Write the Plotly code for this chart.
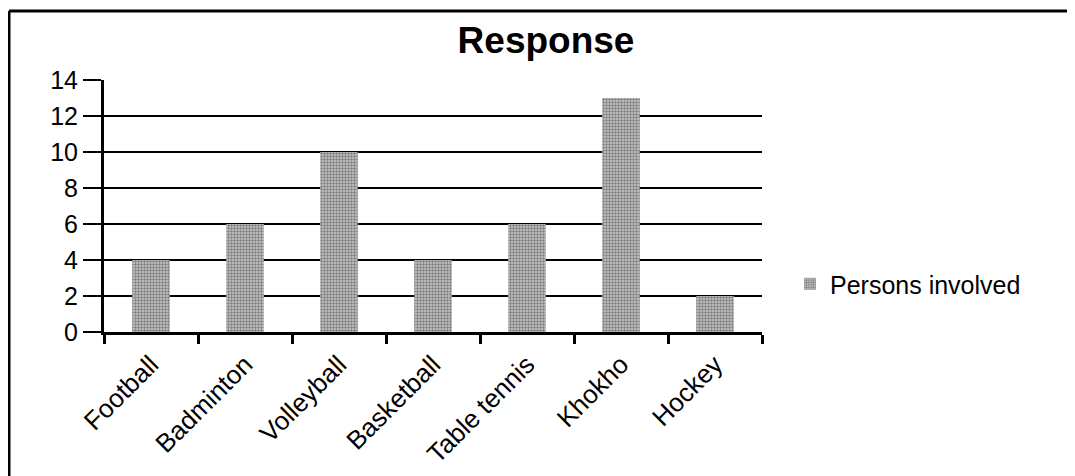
import plotly.graph_objects as go

categories = ["Football", "Badminton", "Volleyball", "Basketball", "Table tennis", "Khokho", "Hockey"]
persons_involved = [4, 6, 10, 4, 6, 13, 2]
y_ticks = [0, 2, 4, 6, 8, 10, 12, 14]

# page body adds an 8px offset; work in screen pixels and convert
OFF = 8
W, H = 1075 - OFF, 476 - OFF
L, T = 104 - OFF, 80 - OFF
pw, ph = 658, 252
R, B = W - L - pw, H - T - ph

def px_x(px):  # screen px -> paper x
    return (px - OFF - L) / pw

def px_y(py):  # screen px -> paper y
    return (T + ph - (py - OFF)) / ph

fig = go.Figure()
fig.add_trace(go.Bar(
    x=categories, y=persons_involved, name="Persons involved",
    width=0.4,
    marker=dict(color="#bdbdbd", line=dict(width=0),
                pattern=dict(shape=".", fgcolor="#333333", bgcolor="#c8c8c8", size=3, solidity=0.5)),
    showlegend=True,
))

font = "Liberation Sans, Arial, sans-serif"
fig.update_layout(
    width=W, height=H,
    margin=dict(l=L, r=R, t=T, b=B, autoexpand=False),
    paper_bgcolor="white", plot_bgcolor="white",
    font=dict(family=font, size=24, color="black"),
    title=dict(text="<b>Response</b>", x=px_x(546), xref="paper", xanchor="center",
               y=1 - (40 - OFF) / H, yanchor="middle", font=dict(size=37, family=font)),
    showlegend=True,
    legend=dict(x=px_x(790), y=px_y(284), xanchor="left", yanchor="middle",
                font=dict(size=25), itemwidth=30, bgcolor="rgba(0,0,0,0)"),
)
fig.update_xaxes(
    showline=True, linecolor="black", linewidth=3,
    ticks="outside", tickson="boundaries", ticklen=9, tickwidth=3, tickcolor="black",
    tickangle=-45, tickfont=dict(size=26), showgrid=False, ticklabelstandoff=4,
)
fig.update_yaxes(
    range=[0, 14], tickvals=y_ticks, showline=True, linecolor="black", linewidth=3,
    showgrid=True, gridcolor="black", gridwidth=2, zeroline=False,
    ticks="outside", ticklen=18, tickwidth=2, tickcolor="black", tickfont=dict(size=25),
)
# scanned frame: top and left edges
fig.add_shape(type="line", xref="paper", yref="paper", x0=px_x(9), x1=px_x(1090), y0=px_y(11), y1=px_y(11),
              line=dict(color="black", width=3))
fig.add_shape(type="line", xref="paper", yref="paper", x0=px_x(9), x1=px_x(9), y0=px_y(11), y1=px_y(490),
              line=dict(color="black", width=3))

fig.write_html("out.html")
